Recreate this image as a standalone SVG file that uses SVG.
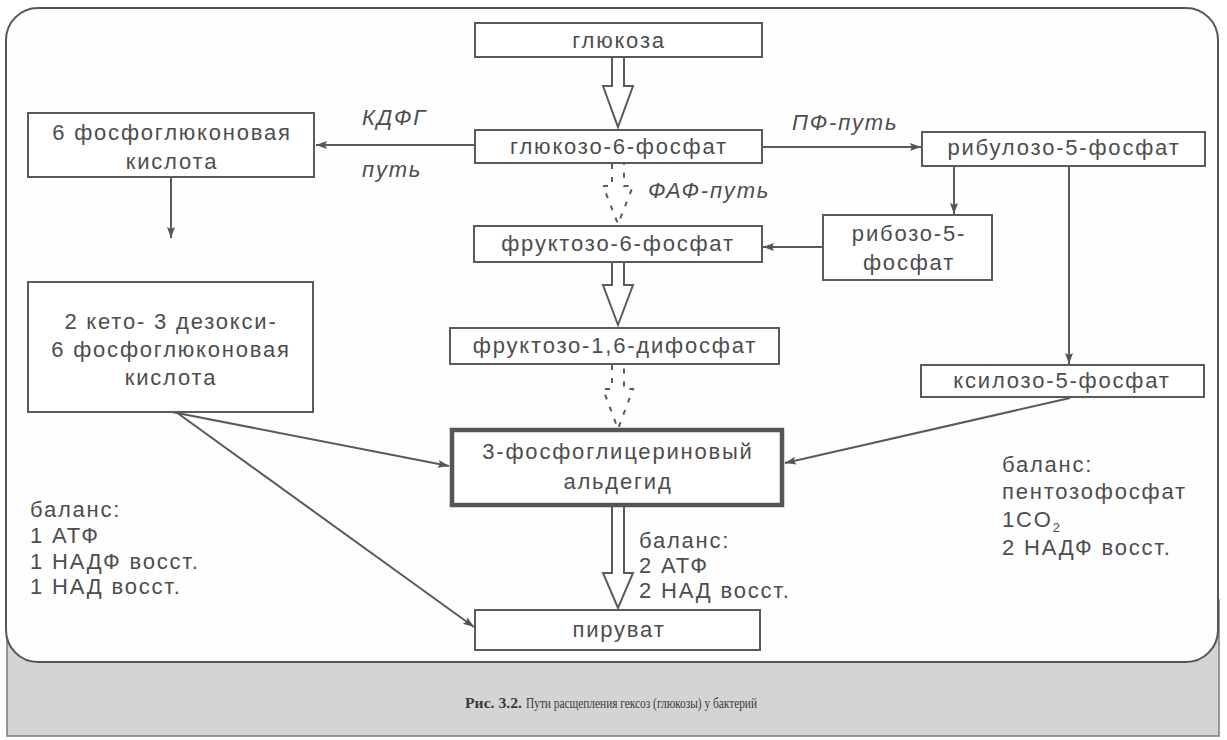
<svg xmlns="http://www.w3.org/2000/svg" width="1227" height="740" viewBox="0 0 1227 740">
  <style>
    .box { fill: #ffffff; stroke: #5a5a5a; stroke-width: 2; }
    .thick { fill: #ffffff; stroke: #555555; stroke-width: 4.5; }
    .t { font-family: "Liberation Sans", Arial, sans-serif; font-size: 22px; fill: #4d4d4d; letter-spacing: 1.8px; }
    .c { text-anchor: middle; }
    .i { font-style: italic; }
    .ln { fill: none; stroke: #5a5a5a; stroke-width: 2; }
    .hollow { fill: #ffffff; stroke: #5a5a5a; stroke-width: 2; stroke-linejoin: miter; }
    .dash { fill: #ffffff; stroke: #5a5a5a; stroke-width: 2; stroke-dasharray: 5 8; }
    .cap { font-family: "Liberation Serif", "Times New Roman", serif; font-size: 15px; fill: #3a3a3a; }
  </style>
  <defs>
    <marker id="ah" markerWidth="12" markerHeight="10" refX="11" refY="5" orient="auto" markerUnits="userSpaceOnUse">
      <path d="M0,1 L11,5 L0,9 L2,5 z" fill="#555555"/>
    </marker>
  </defs>

  <rect width="1227" height="740" fill="#ffffff"/>
  <!-- caption band -->
  <rect x="7" y="600" width="1212" height="136" fill="#d4d4d4" stroke="#7a7a7a" stroke-width="1.5"/>
  <!-- main panel -->
  <rect x="6" y="8" width="1212" height="654" rx="32" ry="32" fill="#fefefe" stroke="#555555" stroke-width="2"/>

  <g id="caption">
    <text class="cap" x="465" y="708" font-weight="bold" textLength="57" lengthAdjust="spacingAndGlyphs">Рис. 3.2.</text>
    <text class="cap" x="526" y="708" textLength="231" lengthAdjust="spacingAndGlyphs">Пути расщепления гексоз (глюкозы) у бактерий</text>
  </g>

  <g id="connectors">
    <!-- hollow arrows -->
    <path class="hollow" d="M612,58 V86 H603 L618,127 L633,86 H624 V58"/>
    <path class="dash" d="M612,164 V186 H603 L618,224 L633,186 H624 V164"/>
    <path class="hollow" d="M612,263 V285 H603 L618,325 L633,285 H624 V263"/>
    <path class="dash" d="M612,365 V389 H603 L618,429 L633,389 H624 V365"/>
    <path class="hollow" d="M612,507 V573 H603 L618,608 L633,573 H624 V507"/>
    <!-- thin arrows -->
    <line class="ln" x1="475" y1="145" x2="316" y2="145" marker-end="url(#ah)"/>
    <line class="ln" x1="171" y1="177" x2="171" y2="238" marker-end="url(#ah)"/>
    <line class="ln" x1="762" y1="147" x2="921" y2="147" marker-end="url(#ah)"/>
    <line class="ln" x1="954" y1="166" x2="954" y2="214" marker-end="url(#ah)"/>
    <line class="ln" x1="823" y1="247" x2="763" y2="247" marker-end="url(#ah)"/>
    <line class="ln" x1="1069" y1="166" x2="1069" y2="364" marker-end="url(#ah)"/>
    <line class="ln" x1="172" y1="412" x2="449" y2="466" marker-end="url(#ah)"/>
    <line class="ln" x1="176" y1="412" x2="474" y2="627" marker-end="url(#ah)"/>
    <line class="ln" x1="1070" y1="398" x2="785" y2="463" marker-end="url(#ah)"/>
  </g>

  <g id="glucose">
    <rect class="box" x="475" y="23" width="287" height="34"/>
    <text class="t c" x="619" y="48">глюкоза</text>
  </g>
  <g id="g6p">
    <rect class="box" x="475" y="130" width="287" height="33"/>
    <text class="t c" x="619" y="154">глюкозо-6-фосфат</text>
  </g>
  <g id="pg6">
    <rect class="box" x="28" y="113" width="286" height="64"/>
    <text class="t c" x="172" y="140">6 фосфоглюконовая</text>
    <text class="t c" x="172" y="169">кислота</text>
  </g>
  <g id="label-kdfg">
    <text class="t i" x="362" y="125">КДФГ</text>
    <text class="t i" x="362" y="177">путь</text>
  </g>
  <g id="label-pf">
    <text class="t i" x="792" y="130">ПФ-путь</text>
  </g>
  <g id="label-faf">
    <text class="t i" x="648" y="198">ФАФ-путь</text>
  </g>
  <g id="ribulose">
    <rect class="box" x="922" y="132" width="283" height="34"/>
    <text class="t c" x="1064" y="155">рибулозо-5-фосфат</text>
  </g>
  <g id="ribose">
    <rect class="box" x="823" y="215" width="169" height="65"/>
    <text class="t c" x="909" y="241">рибозо-5-</text>
    <text class="t c" x="909" y="270">фосфат</text>
  </g>
  <g id="f6p">
    <rect class="box" x="474" y="226" width="288" height="36"/>
    <text class="t c" x="618" y="251">фруктозо-6-фосфат</text>
  </g>
  <g id="kdpg">
    <rect class="box" x="28" y="282" width="285" height="130"/>
    <text class="t c" x="171" y="329">2 кето- 3 дезокси-</text>
    <text class="t c" x="171" y="357">6 фосфоглюконовая</text>
    <text class="t c" x="171" y="385">кислота</text>
  </g>
  <g id="f16dp">
    <rect class="box" x="450" y="328" width="329" height="36"/>
    <text class="t c" x="615" y="353">фруктозо-1,6-дифосфат</text>
  </g>
  <g id="xylulose">
    <rect class="box" x="921" y="365" width="283" height="32"/>
    <text class="t c" x="1062" y="388">ксилозо-5-фосфат</text>
  </g>
  <g id="pga">
    <rect class="thick" x="452" y="430" width="330" height="75"/>
    <text class="t c" x="618" y="459">3-фосфоглицериновый</text>
    <text class="t c" x="618" y="489">альдегид</text>
  </g>
  <g id="pyruvate">
    <rect class="box" x="475" y="610" width="285" height="40"/>
    <text class="t c" x="619" y="637">пируват</text>
  </g>
  <g id="balance-left">
    <text class="t" x="30" y="517">баланс:</text>
    <text class="t" x="30" y="543">1 АТФ</text>
    <text class="t" x="30" y="569">1 НАДФ восст.</text>
    <text class="t" x="30" y="594">1 НАД восст.</text>
  </g>
  <g id="balance-mid">
    <text class="t" x="639" y="548">баланс:</text>
    <text class="t" x="639" y="573">2 АТФ</text>
    <text class="t" x="639" y="598">2 НАД восст.</text>
  </g>
  <g id="balance-right">
    <text class="t" x="1002" y="472">баланс:</text>
    <text class="t" x="1002" y="499">пентозофосфат</text>
    <text class="t" x="1002" y="527">1CO<tspan font-size="13" dy="5">2</tspan></text>
    <text class="t" x="1002" y="555">2 НАДФ восст.</text>
  </g>
</svg>
